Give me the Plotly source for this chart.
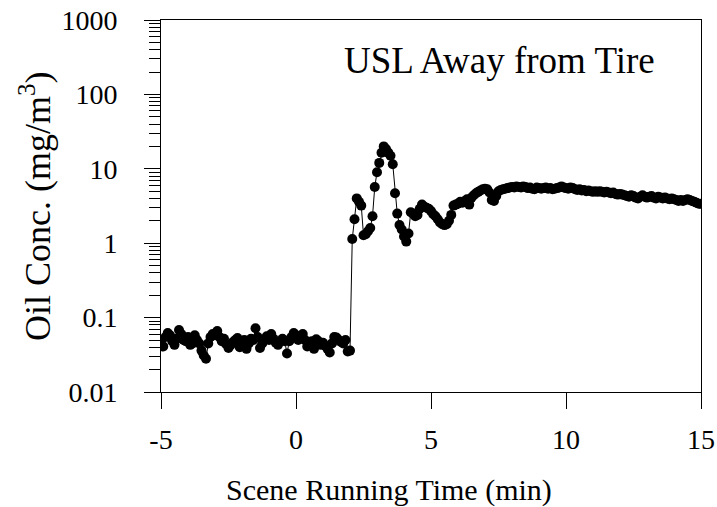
import plotly.graph_objects as go

# Sampling: one reading every 5 s starting at -5 min
start_min = -5.0
step_min = 5.0 / 60.0

# Oil concentration (mg/m^3)
baseline = [
    0.050, 0.041, 0.055, 0.062, 0.058, 0.048, 0.043, 0.052, 0.068, 0.060,
    0.050, 0.048, 0.055, 0.043, 0.045, 0.058, 0.050, 0.045, 0.036, 0.031,
    0.028, 0.045, 0.055, 0.060, 0.058, 0.066, 0.055, 0.048, 0.052, 0.044,
    0.039, 0.043, 0.047, 0.050, 0.053, 0.040, 0.046, 0.050, 0.038, 0.045,
    0.052, 0.050, 0.072, 0.055, 0.039, 0.045, 0.050, 0.056, 0.050, 0.060,
    0.052, 0.046, 0.043, 0.048, 0.052, 0.048, 0.033, 0.048, 0.055, 0.062,
    0.058, 0.050, 0.053, 0.060, 0.050, 0.041, 0.045, 0.048, 0.038, 0.051,
    0.048, 0.043, 0.046, 0.042, 0.038, 0.034, 0.045, 0.055, 0.054, 0.050,
    0.047, 0.045, 0.050, 0.035, 0.036,
]
release = [
    1.14, 2.1, 4.0, 3.6, 3.2, 1.28, 1.32, 1.45, 1.6, 2.3,
    5.7, 9.0, 12.0, 16.4, 20.0, 18.5, 16.5, 15.0, 11.5, 4.7,
    2.5, 1.76, 1.53, 1.23, 1.05, 1.35, 2.6, 2.5, 2.3, 2.4,
    2.9, 3.3, 3.1, 3.0, 2.9, 2.7, 2.45, 2.3, 2.1, 1.9,
    1.8, 1.75, 1.8, 2.0, 2.4, 3.2, 3.3, 3.4, 3.6, 3.5,
    3.7, 3.9, 3.3, 4.1, 4.4, 4.7, 4.9, 5.1, 5.3, 5.4,
    5.3, 4.8, 3.8, 3.7, 4.3, 5.0, 5.2, 5.3, 5.4, 5.5,
]
plateau = [
    5.6, 5.7, 5.6, 5.8, 5.7, 5.6, 5.8, 5.7, 5.5, 5.6,
    5.4, 5.3, 5.6, 5.5, 5.4, 5.5, 5.6, 5.4, 5.5, 5.3,
    5.4, 5.5, 5.6, 5.8, 5.6, 5.5, 5.4, 5.6, 5.5, 5.3,
    5.2, 5.3, 5.1, 5.2, 5.0, 5.1, 5.0, 4.9, 5.0, 4.9,
    5.0, 4.9, 4.8, 4.9, 4.8, 4.7, 4.8, 4.6, 4.5, 4.6,
    4.5, 4.4, 4.3, 4.2, 4.4, 4.3, 4.1, 4.0, 4.2, 4.4,
    4.2, 4.1, 4.2, 4.3, 4.1, 4.0, 4.2, 4.1, 4.0, 4.1,
    4.0, 3.9, 4.0, 3.9, 3.8, 3.7, 3.8, 3.7, 3.8, 3.9,
    3.8, 3.7, 3.6, 3.5, 3.4, 3.4,
]
conc = baseline + release + plateau
times = [start_min + i * step_min for i in range(len(conc))]

x_ticks = [-5, 0, 5, 10, 15]
y_ticks = [0.01, 0.1, 1, 10, 100, 1000]
y_ticklabels = ["0.01", "0.1", "1", "10", "100", "1000"]

FONT = "Liberation Serif, Times New Roman, serif"

fig = go.Figure()
fig.add_trace(go.Scatter(
    x=times, y=conc, mode="lines+markers",
    line=dict(color="black", width=1),
    marker=dict(color="black", size=10, symbol="circle"),
    showlegend=False, hoverinfo="skip",
))

fig.update_layout(
    width=717, height=507,
    margin=dict(l=161, r=16, t=20, b=115, autoexpand=False),
    paper_bgcolor="white", plot_bgcolor="white",
    font=dict(family=FONT, color="black", size=28),
    xaxis=dict(
        range=[-5, 15], tickvals=x_ticks, ticktext=[str(v) for v in x_ticks],
        ticks="outside", ticklen=16, tickwidth=1, tickcolor="black",
        showline=True, linecolor="black", linewidth=1, mirror=True,
        showgrid=False, zeroline=False, automargin=False,
        tickfont=dict(family=FONT, size=28), ticklabelstandoff=6,
        ticklabeloverflow="allow",
    ),
    yaxis=dict(
        type="log", range=[-2, 3], tickvals=y_ticks, ticktext=y_ticklabels,
        ticks="outside", ticklen=16, tickwidth=1, tickcolor="black",
        showline=True, linecolor="black", linewidth=1, mirror=True,
        showgrid=False, zeroline=False, automargin=False,
        minor=dict(ticks="outside", ticklen=11, tickwidth=1, tickcolor="black",
                   dtick="D1", showgrid=False),
        tickfont=dict(family=FONT, size=28), ticklabelstandoff=21,
        ticklabeloverflow="allow",
    ),
    annotations=[
        dict(text="USL Away from Tire", xref="paper", yref="paper",
             x=0.9185, y=0.892, xanchor="right", yanchor="middle",
             showarrow=False, font=dict(family=FONT, size=37, color="black")),
        dict(text="Scene Running Time (min)", xref="paper", yref="paper",
             x=0.423, y=-0.263, xanchor="center", yanchor="middle",
             showarrow=False, font=dict(family=FONT, size=30, color="black")),
        dict(text="Oil Conc. (mg/m<sup>3</sup>)", xref="paper", yref="paper",
             x=(35 - 161) / 540, y=0.5, xanchor="center", yanchor="middle",
             textangle=-90, showarrow=False, font=dict(family=FONT, size=36, color="black")),
    ],
)

fig.write_html(
    "out.html",
    config={"displayModeBar": False, "staticPlot": True},
    post_script="document.body.style.margin='0';document.body.style.overflow='hidden';",
)
